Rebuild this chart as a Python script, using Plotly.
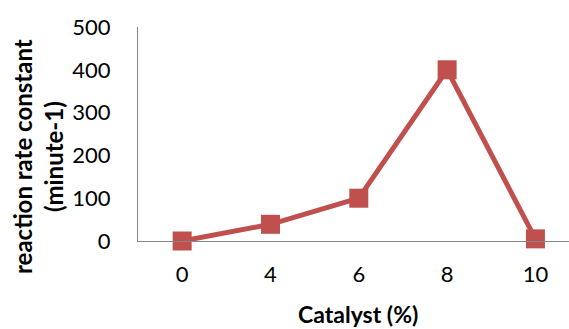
import plotly.graph_objects as go

categories = ["0", "4", "6", "8", "10"]
rate_constant = [0, 39, 100, 400, 5]
y_ticks = [0, 100, 200, 300, 400, 500]

RED = "#C0504D"
FONT = "Lato"

fig = go.Figure()
fig.add_trace(go.Scatter(
    x=list(range(len(categories))), y=rate_constant, mode="lines+markers",
    line=dict(color=RED, width=5),
    marker=dict(symbol="square", size=19, color=RED),
    showlegend=False, cliponaxis=False,
))

fig.update_layout(
    width=569, height=329,
    margin=dict(l=138, r=0, t=27, b=88),
    paper_bgcolor="white", plot_bgcolor="white",
    font=dict(family=FONT, color="black"),
    xaxis=dict(
        range=[-0.5, 4.38], tickmode="array",
        tickvals=list(range(len(categories))), ticktext=categories,
        showgrid=False, zeroline=False, showline=True,
        linecolor="#868686", linewidth=1, automargin=False,
        tickfont=dict(size=22, family=FONT), ticks="",
        ticklabelstandoff=14,
    ),
    yaxis=dict(
        range=[0, 500], tickvals=y_ticks,
        showgrid=False, zeroline=False, showline=True,
        linecolor="#868686", linewidth=1, automargin=False,
        tickfont=dict(size=22, family=FONT), ticks="",
        ticklabelstandoff=22,
    ),
    annotations=[
        dict(text="Catalyst (%)", xref="paper", yref="paper", x=(358 - 138) / 431, y=0,
             yshift=-73, xanchor="center", yanchor="middle", showarrow=False,
             font=dict(size=23, family=FONT, color="black", weight="bold")),
        dict(text="reaction rate constant<br>(minute-1)", xref="paper", yref="paper",
             x=0, xshift=38 - 138, y=(241 - 157) / 214, xanchor="center", yanchor="middle",
             textangle=-90, showarrow=False,
             font=dict(size=24, family=FONT, color="black", weight="bold")),
    ],
)

fig.write_html(
    "out.html",
    config={"displayModeBar": False},
    post_script="document.body.style.margin='0';document.body.style.padding='0';",
)
